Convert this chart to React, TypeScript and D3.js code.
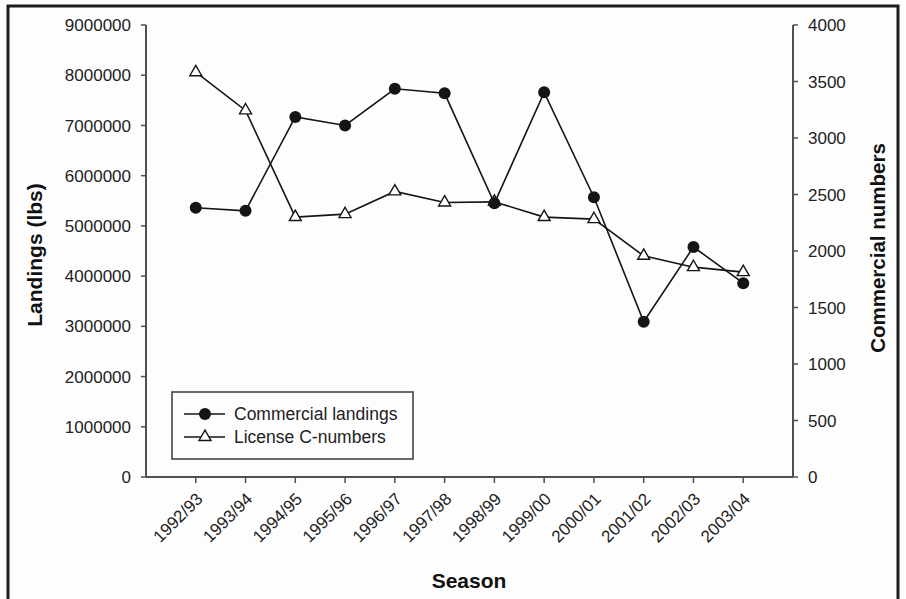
import React from "react";
import * as d3 from "d3";

const seasons = ["1992/93","1993/94","1994/95","1995/96","1996/97","1997/98","1998/99","1999/00","2000/01","2001/02","2002/03","2003/04"];
const landings = [5360000,5300000,7170000,7000000,7730000,7640000,5450000,7660000,5570000,3090000,4580000,3860000];
const licenses = [3582,3244,2300,2326,2527,2429,2435,2300,2282,1957,1857,1813];
const leftTicks = [0,1000000,2000000,3000000,4000000,5000000,6000000,7000000,8000000,9000000];
const rightTicks = [0,500,1000,1500,2000,2500,3000,3500,4000];

const W = 906, H = 599;
const L = 146, R = 793, T = 25, B = 477;
const FONT = "Liberation Sans, Arial, Helvetica, sans-serif";
const AX = "#505050";
const INK = "#151515";

export default function App() {
  const x = d3.scaleLinear().domain([0, seasons.length + 1]).range([L, R]);
  const yL = d3.scaleLinear().domain([0, 9000000]).range([B, T]);
  const yR = d3.scaleLinear().domain([0, 4000]).range([B, T]);
  const lineL = d3.line<number>().x((_, i) => x(i + 1)).y((d) => yL(d));
  const lineR = d3.line<number>().x((_, i) => x(i + 1)).y((d) => yR(d));
  const tri = d3.symbol().type(d3.symbolTriangle).size(62)()!;

  return (
    <svg width={W} height={H} style={{ position: "absolute", left: 0, top: 0, background: "#fdfdfd" }} fontFamily={FONT}>
      <rect x={0} y={0} width={W} height={H} fill="#fdfdfd" />
      <rect x={8} y={6} width={890} height={640} fill="none" stroke="#1c1c1c" strokeWidth={3} />

      {/* left axis */}
      <line x1={L} x2={L} y1={T} y2={B} stroke={AX} strokeWidth={2} />
      {leftTicks.map((t) => (
        <g key={"l" + t}>
          <line x1={L - 5} x2={L} y1={yL(t)} y2={yL(t)} stroke={AX} strokeWidth={1.5} />
          <text x={131} y={yL(t)} dy="0.36em" textAnchor="end" fontSize={17} fill="#222">{t}</text>
        </g>
      ))}
      {/* right axis */}
      <line x1={R} x2={R} y1={T} y2={B} stroke={AX} strokeWidth={2} />
      {rightTicks.map((t) => (
        <g key={"r" + t}>
          <line x1={R} x2={R + 5} y1={yR(t)} y2={yR(t)} stroke={AX} strokeWidth={1.5} />
          <text x={808} y={yR(t)} dy="0.36em" textAnchor="start" fontSize={17} fill="#222">{t}</text>
        </g>
      ))}
      {/* x axis */}
      <line x1={L} x2={R} y1={B} y2={B} stroke={AX} strokeWidth={2} />
      {seasons.map((s, i) => (
        <g key={s}>
          <line x1={x(i + 1)} x2={x(i + 1)} y1={B} y2={B + 6} stroke={AX} strokeWidth={1.5} />
          <text
            x={x(i + 1) + 8}
            y={500}
            textAnchor="end"
            fontSize={17}
            fill="#222"
            transform={`rotate(-45, ${x(i + 1) + 8}, 500)`}
          >{s}</text>
        </g>
      ))}

      {/* axis titles */}
      <text transform="translate(42,255) rotate(-90)" textAnchor="middle" fontSize={21} fontWeight="bold" fill="#111">Landings (lbs)</text>
      <text transform="translate(885,248) rotate(-90)" textAnchor="middle" fontSize={20.5} fontWeight="bold" fill="#111">Commercial numbers</text>
      <text x={469} y={588} textAnchor="middle" fontSize={21} fontWeight="bold" fill="#111">Season</text>

      {/* series */}
      <path d={lineR(licenses)!} fill="none" stroke={INK} strokeWidth={1.6} />
      <path d={lineL(landings)!} fill="none" stroke={INK} strokeWidth={1.6} />
      {licenses.map((v, i) => (
        <path key={"t" + i} d={tri} transform={`translate(${x(i + 1)},${yR(v)})`} fill="#fff" stroke={INK} strokeWidth={1.4} />
      ))}
      {landings.map((v, i) => (
        <circle key={"c" + i} cx={x(i + 1)} cy={yL(v)} r={6} fill={INK} />
      ))}

      {/* legend */}
      <rect x={172} y={392} width={241} height={67} fill="#fdfdfd" stroke="#444" strokeWidth={1.6} />
      <line x1={184} x2={225} y1={414} y2={414} stroke={INK} strokeWidth={1.6} />
      <circle cx={205} cy={414} r={6} fill={INK} />
      <text x={234} y={414} dy="0.36em" fontSize={17.5} fill="#222">Commercial landings</text>
      <line x1={184} x2={225} y1={437} y2={437} stroke={INK} strokeWidth={1.6} />
      <path d={tri} transform="translate(205,437)" fill="#fff" stroke={INK} strokeWidth={1.4} />
      <text x={234} y={437} dy="0.36em" fontSize={17.5} fill="#222">License C-numbers</text>
    </svg>
  );
}
